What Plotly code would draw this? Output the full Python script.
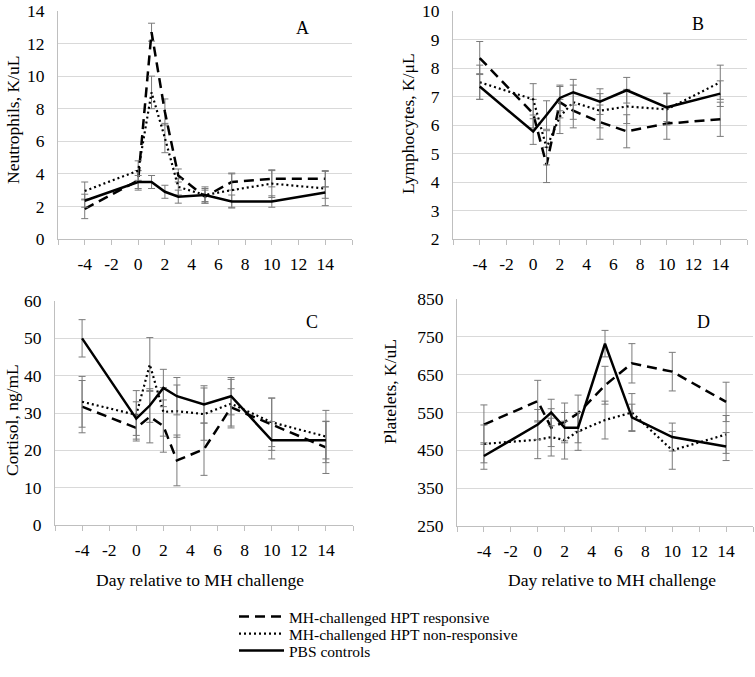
import plotly.graph_objects as go

days = [-4, 0, 1, 2, 3, 5, 7, 10, 14]
x_tickvals = [-6, -4, -2, 0, 2, 4, 6, 8, 10, 12, 14, 16]
x_ticktext = ["", "-4", "-2", "0", "2", "4", "6", "8", "10", "12", "14", ""]

series_names = ["MH-challenged HPT responsive", "MH-challenged HPT non-responsive", "PBS controls"]

# Panel A: Neutrophils
neut_resp = [1.85, 3.6, 12.7, 7.8, 3.9, 2.6, 3.5, 3.7, 3.7]
neut_resp_se = [0.6, 0.6, 0.55, 0.8, 0.4, 0.4, 0.5, 0.5, 0.5]
neut_nonresp = [2.95, 4.2, 9.0, 6.2, 3.2, 2.7, 3.0, 3.4, 3.1]
neut_nonresp_se = [0.55, 0.6, 1.0, 0.9, 0.5, 0.5, 1.05, 0.85, 1.05]
neut_pbs = [2.35, 3.5, 3.5, 2.9, 2.6, 2.7, 2.3, 2.3, 2.85]
neut_pbs_se = [0.4, 0.4, 0.4, 0.4, 0.4, 0.4, 0.4, 0.35, 0.35]

# Panel B: Lymphocytes
lymph_resp = [8.35, 6.4, 4.6, 6.8, 6.5, 6.1, 5.78, 6.05, 6.2]
lymph_resp_se = [0.58, 0.5, 0.62, 0.55, 0.6, 0.6, 0.58, 0.55, 0.6]
lymph_nonresp = [7.5, 6.9, 5.2, 6.3, 6.8, 6.5, 6.65, 6.55, 7.5]
lymph_nonresp_se = [0.6, 0.55, 0.6, 0.6, 0.6, 0.6, 0.6, 0.55, 0.6]
lymph_pbs = [7.35, 5.77, 6.35, 6.95, 7.15, 6.82, 7.22, 6.62, 7.1]
lymph_pbs_se = [0.45, 0.45, 0.5, 0.45, 0.45, 0.45, 0.45, 0.5, 0.45]

# Panel C: Cortisol
cort_resp = [31.7, 26, 29, 26.5, 17.3, 20.3, 31.5, 27, 20.8]
cort_resp_se = [7, 3.5, 7, 7, 6.8, 7, 5, 7, 7]
cort_nonresp = [33, 29.5, 43, 30.3, 30.5, 29.7, 32.5, 27.5, 23.7]
cort_nonresp_se = [6.8, 6.5, 7.2, 6.5, 7, 7, 6.5, 6.5, 7]
cort_pbs = [50, 28.5, 32, 36.7, 34.5, 32.3, 34.5, 22.7, 22.7]
cort_pbs_se = [5, 4.5, 4.5, 5, 5, 5, 5, 5, 5]

# Panel D: Platelets
plt_resp = [518, 580, 510, 525, 548, 622, 680, 658, 578]
plt_resp_se = [52, 55, 50, 50, 48, 50, 52, 51, 52]
plt_nonresp = [467, 478, 485, 477, 500, 530, 550, 450, 492]
plt_nonresp_se = [50, 50, 50, 50, 50, 50, 50, 50, 50]
plt_pbs = [435, 518, 550, 510, 510, 732, 537, 485, 460]
plt_pbs_se = [35, 40, 35, 40, 40, 35, 35, 37, 37]

W, H = 755, 677


def fx(px):
    return px / W


def fy(py):
    return 1 - py / H


panels = [
    dict(key="A", x="x", y="y", data=[(neut_resp, neut_resp_se), (neut_nonresp, neut_nonresp_se), (neut_pbs, neut_pbs_se)],
         yr=[0, 14], dt=2, ytitle="Neutrophils, K/uL",
         xd=[fx(58), fx(352)], yd=[fy(239), fy(11)]),
    dict(key="B", x="x2", y="y2", data=[(lymph_resp, lymph_resp_se), (lymph_nonresp, lymph_nonresp_se), (lymph_pbs, lymph_pbs_se)],
         yr=[2, 10], dt=1, ytitle="Lymphocytes, K/μL",
         xd=[fx(453), fx(747)], yd=[fy(239), fy(11)]),
    dict(key="C", x="x3", y="y3", data=[(cort_resp, cort_resp_se), (cort_nonresp, cort_nonresp_se), (cort_pbs, cort_pbs_se)],
         yr=[0, 60], dt=10, ytitle="Cortisol, ng/mL",
         xd=[fx(55), fx(353)], yd=[fy(525), fy(301)]),
    dict(key="D", x="x4", y="y4", data=[(plt_resp, plt_resp_se), (plt_nonresp, plt_nonresp_se), (plt_pbs, plt_pbs_se)],
         yr=[250, 850], dt=100, ytitle="Platelets, K/uL",
         xd=[fx(457), fx(753)], yd=[fy(526), fy(299)]),
]

dashes = ["10px,6px", "2px,3px", "solid"]
widths = [2.5, 2.2, 2.5]
legend_ids = ["legend", "legend2", "legend3"]

fig = go.Figure()
font_family = "Liberation Serif, Times New Roman, serif"
FS = 17.5

for pi, p in enumerate(panels):
    for si, (vals, se) in enumerate(p["data"]):
        fig.add_trace(go.Scatter(
            x=days, y=vals, mode="lines", name=series_names[si],
            line=dict(color="black", width=widths[si], dash=dashes[si]),
            error_y=dict(type="data", array=se, visible=True, color="#7a7a7a", thickness=1, width=3.5),
            xaxis=p["x"], yaxis=p["y"], showlegend=(pi == 0), legend=legend_ids[si],
        ))

layout = dict(
    width=W, height=H,
    margin=dict(l=0, r=0, t=0, b=0),
    paper_bgcolor="white", plot_bgcolor="white",
    font=dict(family=font_family, size=FS, color="black"),
    showlegend=True,
)

legend_rows = [617, 634, 651]
for lid, ry in zip(legend_ids, legend_rows):
    layout[lid] = dict(x=fx(234), y=fy(ry), xanchor="left", yanchor="middle",
                       font=dict(family=font_family, size=15.5, color="black"),
                       bgcolor="rgba(0,0,0,0)", itemwidth=45, borderwidth=0)

annotations = []
for i, p in enumerate(panels):
    sfx = "" if i == 0 else str(i + 1)
    layout["xaxis" + sfx] = dict(
        domain=p["xd"], range=[-6, 16], tickmode="array", tickvals=x_tickvals, ticktext=x_ticktext,
        showgrid=False, zeroline=False, showline=True, linecolor="#bfbfbf", linewidth=1,
        ticks="outside", ticklen=5, tickcolor="#bfbfbf", ticklabelstandoff=4,
        tickfont=dict(family=font_family, size=FS), anchor=p["y"], automargin=False,
        fixedrange=True, ticklabeloverflow="allow",
    )
    layout["yaxis" + sfx] = dict(
        domain=p["yd"], range=p["yr"], dtick=p["dt"], tick0=p["yr"][0],
        showgrid=True, gridcolor="#d9d9d9", gridwidth=1, zeroline=False,
        showline=True, linecolor="#bfbfbf", linewidth=1, ticks="", ticklabelstandoff=9,
        tickfont=dict(family=font_family, size=FS), anchor=p["x"], automargin=False,
        fixedrange=True, ticklabeloverflow="allow",
    )

# y-axis titles
ytitle_pos = [(13, 120), (408, 124), (12, 420), (390, 392)]
for p, (px, py) in zip(panels, ytitle_pos):
    annotations.append(dict(text=p["ytitle"], x=fx(px), y=fy(py), xref="paper", yref="paper",
                            showarrow=False, textangle=-90, font=dict(family=font_family, size=FS),
                            xanchor="center", yanchor="middle"))
# x-axis titles
for px in (200, 612):
    annotations.append(dict(text="Day relative to MH challenge", x=fx(px), y=fy(580), xref="paper", yref="paper",
                            showarrow=False, font=dict(family=font_family, size=FS),
                            xanchor="center", yanchor="middle"))
# panel letters
letter_pos = [(302, 28), (698, 24), (312, 322), (703, 322)]
for p, (px, py) in zip(panels, letter_pos):
    annotations.append(dict(text=p["key"], x=fx(px), y=fy(py), xref="paper", yref="paper",
                            showarrow=False, font=dict(family=font_family, size=18),
                            xanchor="center", yanchor="middle"))

layout["annotations"] = annotations
fig.update_layout(**layout)
fig.write_html("out.html", config={"displayModeBar": False},
               post_script="document.body.style.margin='0px';")
